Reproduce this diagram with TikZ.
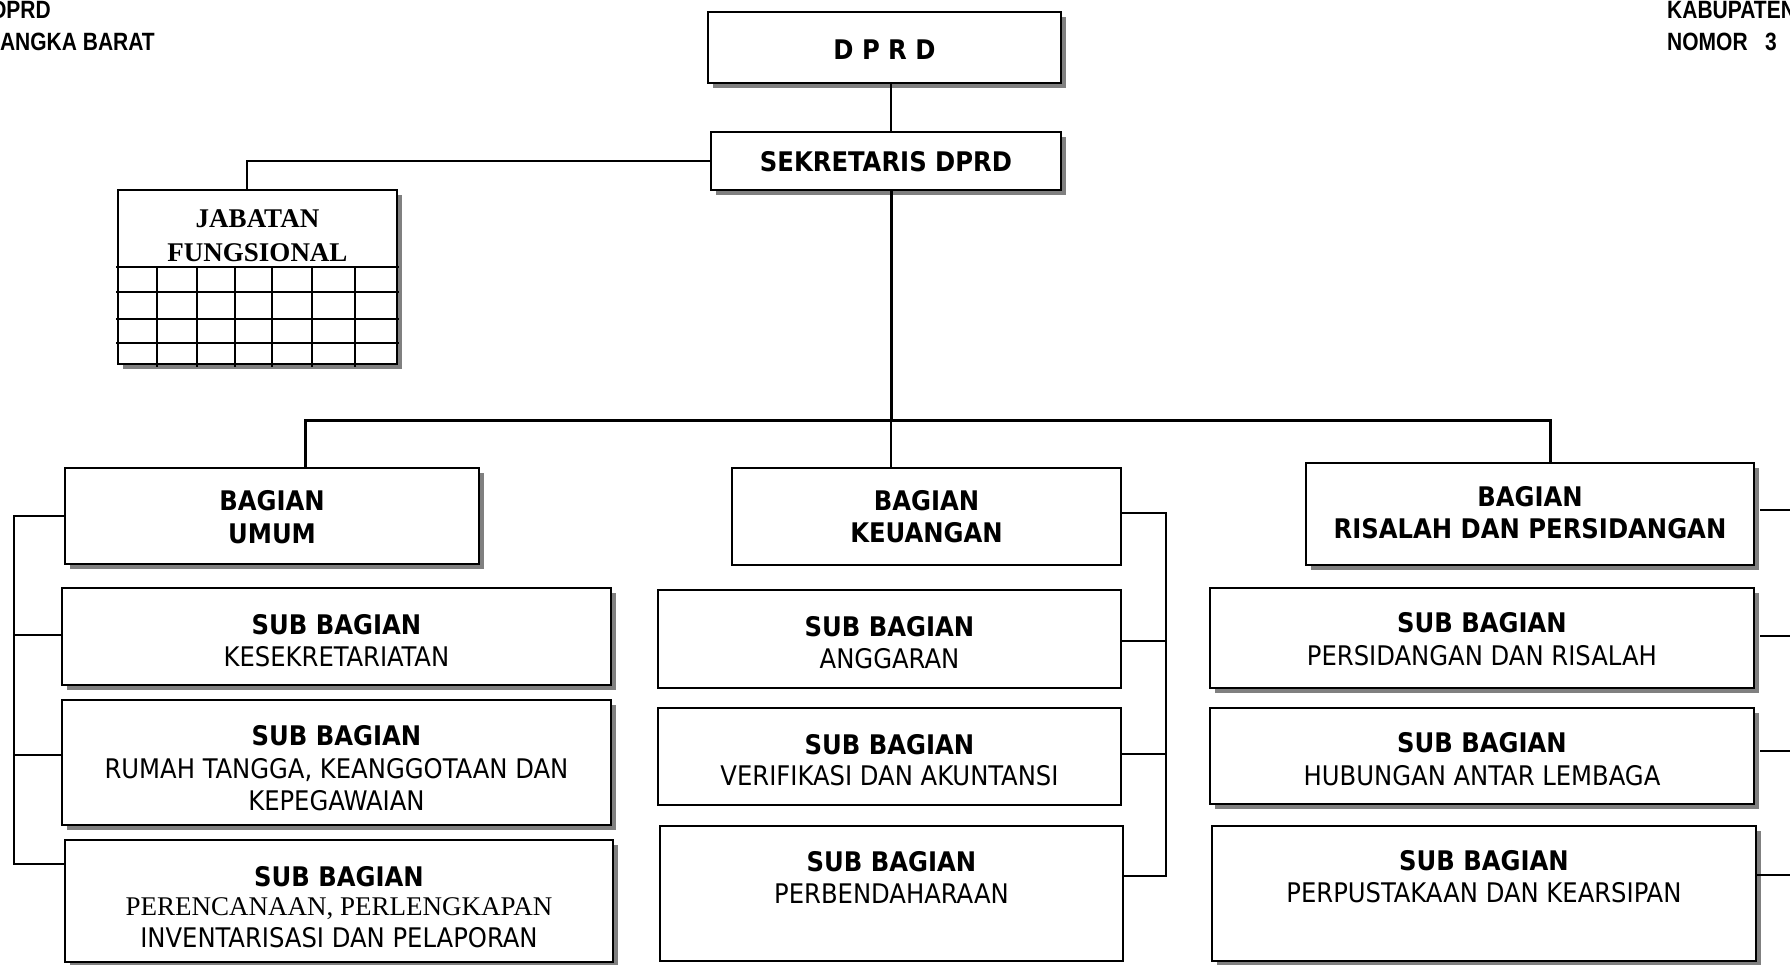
\documentclass[tikz,border=0pt]{standalone}
\usepackage{fontspec}
\usetikzlibrary{shadows,calc}
\newfontfamily\tah{DejaVu Sans Condensed}
\newfontfamily\ari[FakeStretch=0.84]{Liberation Sans}
\newfontfamily\tms{Liberation Serif}
\newcommand\orgbox[6]{\node[#6, minimum width={#4-#2}, minimum height={#5-#3}] (#1) at ({(#2+#4)/2},{(#3+#5)/2}) {};}
\tikzset{
  box/.style={draw, line width=1.6pt, fill=white, inner sep=0pt, outer sep=0pt},
  shbox/.style={box, line width=1.8pt, drop shadow={shadow xshift=5pt, shadow yshift=-5pt, fill=black!50, opacity=1}},
  txt/.style={anchor=north, inner sep=0pt, align=center, font=\tah\fontsize{27}{32}\selectfont},
  btxt/.style={txt, font=\tah\bfseries\fontsize{27}{32}\selectfont},
  hdr/.style={inner sep=0pt, font=\ari\bfseries\fontsize{25}{30}\selectfont},
  conn/.style={line width=2pt},
  thickconn/.style={line width=3pt, line join=miter},
  br/.style={line width=1.4pt},
  grid/.style={line width=1.6pt}
}
\begin{document}
\begin{tikzpicture}[x=1pt,y=-1pt]
\useasboundingbox (0,0) rectangle (1790,964);
% headers
\node[hdr, anchor=base east] (h1) at (51,18) {DPRD};
\node[hdr, anchor=base east] (h2) at (155,50) {ANGKA BARAT};
\node[hdr, anchor=base west] (h3) at (1667,18) {KABUPATEN};
\node[hdr, anchor=base west] (h4) at (1667,50) {NOMOR~~~3};
% coordinates
\coordinate (tx) at (891,0);
\coordinate (jx) at (247,190);
\coordinate (busL) at (305,420);
\coordinate (busM) at (891,420);
\coordinate (busR) at (1550,420);
\coordinate (lb1) at (14,516);
\coordinate (lb2) at (14,635);
\coordinate (lb3) at (14,755);
\coordinate (lb4) at (14,864);
\coordinate (rb1) at (1166,513);
\coordinate (rb2) at (1166,641);
\coordinate (rb3) at (1166,754);
\coordinate (rb4) at (1166,876);
\coordinate (re1) at (1795,510);
\coordinate (re2) at (1795,636);
\coordinate (re3) at (1795,751);
\coordinate (re4) at (1795,875);
% boxes
\orgbox{dprd}{708}{12}{1061}{83}{shbox}
\orgbox{sek}{711}{132}{1061}{190}{shbox}
\orgbox{jab}{118}{190}{397}{364}{shbox}
\orgbox{umum}{65}{468}{479}{564}{shbox}
\orgbox{ses}{62}{588}{611}{685}{shbox}
\orgbox{rt}{62}{700}{611}{825}{shbox}
\orgbox{per}{65}{840}{613}{962}{shbox}
\orgbox{keu}{732}{468}{1121}{565}{box}
\orgbox{ang}{658}{590}{1121}{688}{box}
\orgbox{ver}{658}{708}{1121}{805}{box}
\orgbox{bend}{660}{826}{1123}{961}{box}
\orgbox{ris}{1306}{463}{1754}{565}{shbox}
\orgbox{pers}{1210}{588}{1754}{688}{shbox}
\orgbox{hub}{1210}{708}{1754}{804}{shbox}
\orgbox{pus}{1212}{826}{1756}{961}{shbox}
% jabatan grid
\foreach \yy in {267,292,319,343} {\draw[grid] (116,\yy) -- (399,\yy);}
\foreach \xx in {157,197,235,272,312,355} {\draw[grid] (\xx,267) -- (\xx,367);}
% texts
\node[btxt] (t-dprd) at (884.5,39.5) {D P R D};
\node[btxt] (t-sek) at (886,151) {SEKRETARIS DPRD};
\node[txt, font=\tms\bfseries\fontsize{27}{34}\selectfont] (t-jab) at (257.5,209) {JABATAN\\FUNGSIONAL};
\node[btxt, font=\tah\bfseries\fontsize{27}{33}\selectfont] (t-umum) at (272,490.5) {BAGIAN\\UMUM};
\node[txt] (t-ses) at (336.5,614.3) {\textbf{SUB BAGIAN}\\KESEKRETARIATAN};
\node[txt, font=\tah\fontsize{27}{32.5}\selectfont] (t-rt) at (336.5,725.3) {\textbf{SUB BAGIAN}\\RUMAH TANGGA, KEANGGOTAAN DAN\\KEPEGAWAIAN};
\node[btxt, anchor=base] (t-per1) at (339,886) {SUB BAGIAN};
\node[txt, anchor=base, font=\tms\fontsize{27}{30}\selectfont] (t-per2) at (339,915) {PERENCANAAN, PERLENGKAPAN};
\node[txt, anchor=base] (t-per3) at (339,947) {INVENTARISASI DAN PELAPORAN};
\node[btxt] (t-keu) at (926.5,490.5) {BAGIAN\\KEUANGAN};
\node[txt] (t-ang) at (889.5,616.3) {\textbf{SUB BAGIAN}\\ANGGARAN};
\node[txt, font=\tah\fontsize{27}{31}\selectfont] (t-ver) at (889.5,734.3) {\textbf{SUB BAGIAN}\\VERIFIKASI DAN AKUNTANSI};
\node[txt] (t-bend) at (891.5,851.3) {\textbf{SUB BAGIAN}\\PERBENDAHARAAN};
\node[btxt] (t-ris) at (1530,486.3) {BAGIAN\\RISALAH DAN PERSIDANGAN};
\node[txt, font=\tah\fontsize{27}{33}\selectfont] (t-pers) at (1482,612.3) {\textbf{SUB BAGIAN}\\PERSIDANGAN DAN RISALAH};
\node[txt, font=\tah\fontsize{27}{33}\selectfont] (t-hub) at (1482,732.3) {\textbf{SUB BAGIAN}\\HUBUNGAN ANTAR LEMBAGA};
\node[txt] (t-pus) at (1484,850.3) {\textbf{SUB BAGIAN}\\PERPUSTAKAAN DAN KEARSIPAN};
% connectors
\draw[conn] (dprd.south -| tx) -- (sek.north -| tx);
\draw[conn] (sek.west) -| (jx);
\draw[thickconn] (sek.south -| tx) -- (busM);
\draw[thickconn] (umum.north -| busL) -- (busL) -- (busR) -- (ris.north -| busR);
\draw[line width=2.4pt] (busM) -- (keu.north -| busM);
% left bracket
\draw[br] (umum.west |- lb1) -- (lb1) -- (lb4) -- (per.west |- lb4);
\draw[br] (lb2) -- (ses.west |- lb2);
\draw[br] (lb3) -- (rt.west |- lb3);
% middle bracket
\draw[br] (keu.east |- rb1) -- (rb1) -- (rb4) -- (bend.east |- rb4);
\draw[br] (ang.east |- rb2) -- (rb2);
\draw[br] (ver.east |- rb3) -- (rb3);
% right ticks
\draw[br] ($(ris.east |- re1)+(6,0)$) -- (re1);
\draw[br] ($(pers.east |- re2)+(6,0)$) -- (re2);
\draw[br] ($(hub.east |- re3)+(6,0)$) -- (re3);
\draw[br] ($(pus.east |- re4)+(1,0)$) -- (re4);
\end{tikzpicture}
\end{document}
